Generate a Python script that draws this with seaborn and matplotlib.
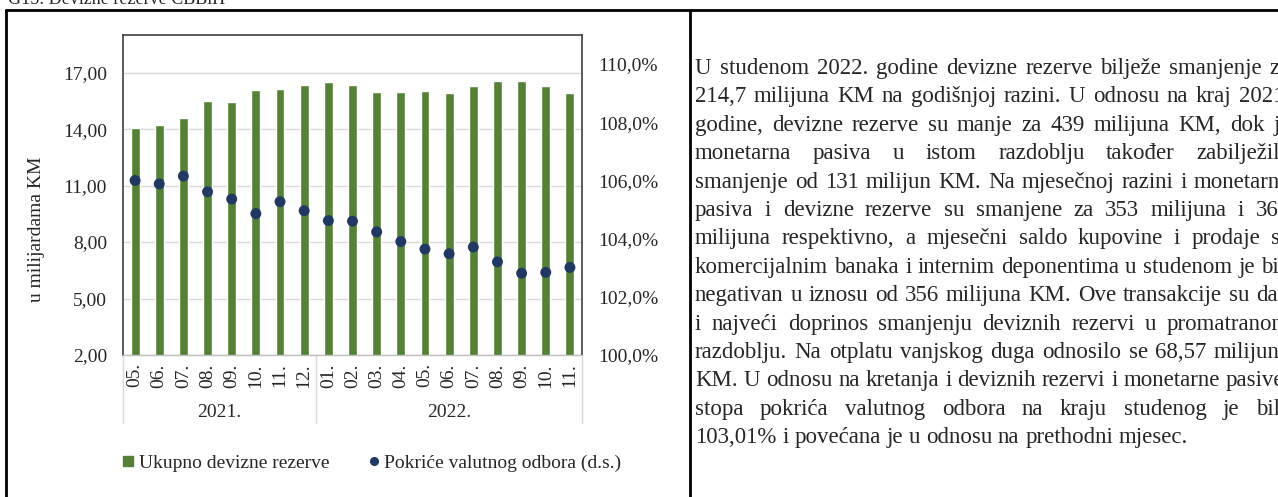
import numpy as np
import pandas as pd
import matplotlib
matplotlib.use("Agg")
import matplotlib.pyplot as plt
from matplotlib.lines import Line2D
from matplotlib.ticker import FixedLocator, FuncFormatter
import seaborn as sns

# data
months = ['05.', '06.', '07.', '08.', '09.', '10.', '11.', '12.',
          '01.', '02.', '03.', '04.', '05.', '06.', '07.', '08.', '09.', '10.', '11.']
years = ['2021.'] * 8 + ['2022.'] * 11
reserves = [14.07, 14.21, 14.60, 15.52, 15.43, 16.06, 16.15, 16.37,
            16.48, 16.37, 15.98, 15.98, 16.02, 15.93, 16.29, 16.53, 16.53, 16.30, 15.93]
coverage = [106.00, 105.88, 106.15, 105.61, 105.36, 104.86, 105.27, 104.96,
            104.62, 104.60, 104.23, 103.90, 103.64, 103.48, 103.71, 103.20, 102.81, 102.84, 103.01]
legend_labels = ['Ukupno devizne rezerve', 'Pokriće valutnog odbora (d.s.)']
y_label = 'u milijardama KM'
title = 'G15: Devizne rezerve CBBiH'
text_lines = [
    'U studenom 2022. godine devizne rezerve bilježe smanjenje za',
    '214,7 milijuna KM na godišnjoj razini. U odnosu na kraj 2021.',
    'godine, devizne rezerve su manje za 439 milijuna KM, dok je',
    'monetarna pasiva u istom razdoblju također zabilježila',
    'smanjenje od 131 milijun KM. Na mjesečnoj razini i monetarna',
    'pasiva i devizne rezerve su smanjene za 353 milijuna i 369',
    'milijuna respektivno, a mjesečni saldo kupovine i prodaje sa',
    'komercijalnim banaka i internim deponentima u studenom je bio',
    'negativan u iznosu od 356 milijuna KM. Ove transakcije su dali',
    'i najveći doprinos smanjenju deviznih rezervi u promatranom',
    'razdoblju. Na otplatu vanjskog duga odnosilo se 68,57 milijuna',
    'KM. U odnosu na kretanja i deviznih rezervi i monetarne pasive,',
    'stopa pokrića valutnog odbora na kraju studenog je bila',
    '103,01% i povećana je u odnosu na prethodni mjesec.',
]

GREEN = '#548235'
NAVY = '#1F3864'
W, H = 1278, 497

sns.set_style('white')
plt.rcParams['font.family'] = ['Liberation Serif', 'DejaVu Serif']

df = pd.DataFrame({'period': [f'{y}{m}' for y, m in zip(years, months)],
                   'reserves': reserves, 'coverage': coverage})
n = len(df)

fig = plt.figure(figsize=(W / 100, H / 100), dpi=100)
fig.patch.set_facecolor('white')

# plot area in pixels: left 123, right 582, top 35, bottom 355
ax = fig.add_axes([123 / W, 1 - 355 / H, (582 - 123) / W, (355 - 35) / H])
ax.set_axisbelow(True)
sns.barplot(data=df, x='period', y='reserves', color=GREEN, saturation=1,
            width=0.37, ax=ax)
ax.set_xlim(-0.5, n - 0.5)
ax.set_ylim(2, 19)
ax.yaxis.set_major_locator(FixedLocator([2, 5, 8, 11, 14, 17]))
ax.yaxis.set_major_formatter(FuncFormatter(lambda v, p: f'{v:.2f}'.replace('.', ',')))
ax.grid(axis='y', color='#D9D9D9', linewidth=1)
ax.set_xlabel('')
ax.set_ylabel('')
ax.set_xticks(range(n))
ax.set_xticklabels(months, rotation=90, va='top', ha='center')
ax.tick_params(axis='x', length=0, pad=6, labelsize=14)
ax.tick_params(axis='y', length=0, pad=11.5, labelsize=14)
for s in ['left', 'top', 'right']:
    ax.spines[s].set_color('#404040')
    ax.spines[s].set_linewidth(1.2)
ax.spines['bottom'].set_color('#BFBFBF')
ax.spines['bottom'].set_linewidth(1)

ax2 = ax.twinx()
sns.scatterplot(x=np.arange(n), y=df['coverage'], color=NAVY, s=62,
                edgecolor='none', ax=ax2, zorder=5)
ax2.set_ylim(100, 111)
ax2.yaxis.set_major_locator(FixedLocator([100, 102, 104, 106, 108, 110]))
ax2.yaxis.set_major_formatter(FuncFormatter(lambda v, p: f'{v:.1f}%'.replace('.', ',')))
ax2.tick_params(axis='y', length=0, pad=12, labelsize=14)
ax2.set_ylabel('')
for s in ax2.spines.values():
    s.set_visible(False)

# multi-level category axis: year labels and separators
xt = ax.get_xaxis_transform()
for xs in [-0.5, 7.5, n - 0.5]:
    ax.plot([xs, xs], [0, -0.2125], transform=xt, clip_on=False,
            color='#D9D9D9', linewidth=1)
for yr in ['2021.', '2022.']:
    idx = [i for i, y in enumerate(years) if y == yr]
    ax.text(np.mean(idx), -0.18, yr, transform=xt, ha='center', va='center',
            fontsize=14)

fig.text(37 / W, 1 - 229 / H, y_label, rotation=90, ha='center', va='center',
         fontsize=14)

handles = [Line2D([], [], marker='s', color=GREEN, linestyle='', markersize=7),
           Line2D([], [], marker='o', color=NAVY, linestyle='', markersize=5.5)]
fig.legend(handles, legend_labels, loc='center left',
           bbox_to_anchor=(122 / W, 1 - 463 / H), ncol=2, frameon=False,
           fontsize=14, handlelength=0.6, handletextpad=0.25,
           columnspacing=2.0, borderaxespad=0, borderpad=0)

# page frame and caption
frame = dict(color='black', linewidth=2, transform=fig.transFigure)
fig.add_artist(Line2D([6 / W, 1], [1 - 9.5 / H] * 2, **frame))
fig.add_artist(Line2D([6 / W] * 2, [0, 1 - 9.5 / H], **frame))
fig.add_artist(Line2D([690 / W] * 2, [0, 1 - 9.5 / H], **frame))
fig.text(8 / W, 1 - 4 / H, title, ha='left', va='baseline', fontsize=13)

# justified paragraph on the right
renderer = fig.canvas.get_renderer()
x0, x1 = 695, 1290
y_first, dy = 68.5, 28.4
sp = fig.text(0, 0, 'a a', fontsize=16.5)
aa = fig.text(0, 0, 'aa', fontsize=16.5)
space_w = sp.get_window_extent(renderer).width - aa.get_window_extent(renderer).width
sp.remove()
aa.remove()
for i, line in enumerate(text_lines):
    words = line.split()
    yf = 1 - (y_first + i * dy) / H
    arts = [fig.text(0, yf, w, fontsize=16.5, ha='left', va='center') for w in words]
    widths = [a.get_window_extent(renderer).width for a in arts]
    if i == len(text_lines) - 1:
        gap = space_w
    else:
        gap = (x1 - x0 - sum(widths)) / (len(words) - 1)
    x = x0
    for a, w in zip(arts, widths):
        a.set_x(x / W)
        x += w + gap

fig.savefig('out.png', dpi=100, facecolor='white')
